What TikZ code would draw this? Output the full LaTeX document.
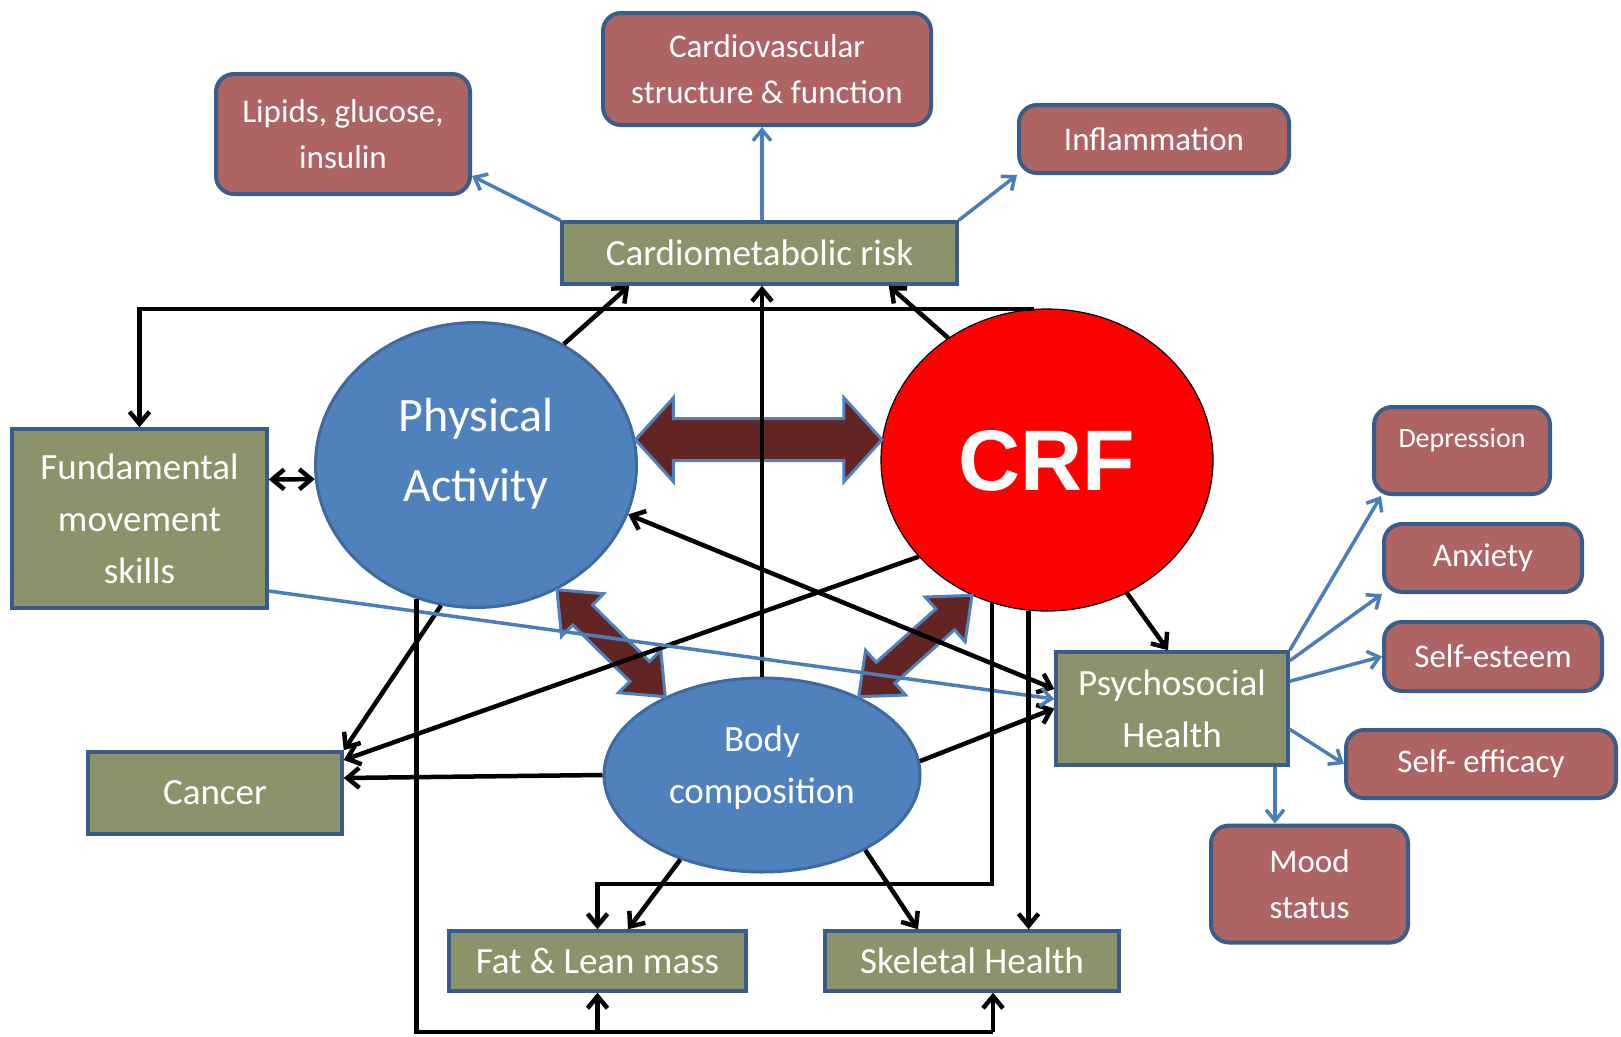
\documentclass[tikz,border=0pt]{standalone}
\usepackage{fontspec}
\setmainfont{Carlito}
\newfontfamily\crffont{Liberation Sans}
\usetikzlibrary{arrows.meta,calc,shapes.geometric}
\definecolor{bordblue}{HTML}{385D8A}
\definecolor{olivebox}{RGB}{138,147,106}
\definecolor{redbox}{RGB}{173,100,98}
\definecolor{ellblue}{HTML}{4F81BD}
\definecolor{ellborder}{HTML}{3E6A9E}
\definecolor{arrblue}{HTML}{4A7EBB}
\definecolor{darkarrow}{HTML}{632523}
\newcommand\bigdarrow[5]{%
  \coordinate (ta) at (#1);
  \coordinate (tb) at (#2);
  \coordinate (ha) at ($(ta)!#3!(tb)$);
  \coordinate (hb) at ($(tb)!#3!(ta)$);
  \draw[bigarr] (ta) -- ($(ha)!#5!90:(tb)$) -- ($(ha)!#4!90:(tb)$) -- ($(hb)!#4!-90:(ta)$) -- ($(hb)!#5!-90:(ta)$) -- (tb)
    -- ($(hb)!#5!90:(ta)$) -- ($(hb)!#4!90:(ta)$) -- ($(ha)!#4!-90:(tb)$) -- ($(ha)!#5!-90:(tb)$) -- cycle;
}
\begin{document}
\begin{tikzpicture}[x=1pt,y=-1pt,
  grn/.style={draw=bordblue, fill=olivebox, line width=3.5pt, text=white, align=center,
    font=\fontsize{37}{52}\selectfont, inner sep=0pt},
  redb/.style={draw=bordblue, fill=redbox, line width=4pt, rounded corners=18pt, text=white, align=center,
    font=\fontsize{33}{46}\selectfont, inner sep=0pt},
  ell/.style={ellipse, draw=ellborder, fill=ellblue, line width=3pt, inner sep=0pt},
  txtw/.style={text=white, align=center, inner sep=0pt},
  blk/.style={line width=4.5pt, black, -{Straight Barb[length=12pt,width=20pt]}},
  blkd/.style={line width=4.5pt, black, {Straight Barb[length=12pt,width=20pt]}-{Straight Barb[length=12pt,width=20pt]}},
  blkline/.style={line width=4.5pt, black},
  blu/.style={line width=3.5pt, arrblue, -{Straight Barb[length=11pt,width=18pt]}},
  bigarr/.style={draw=ellblue, fill=darkarrow, line width=3pt, line join=miter}]
\useasboundingbox[fill=white] (0,0) rectangle (1621,1036);

% boxes
\node[redb, minimum width=328pt, minimum height=112pt] (cv) at (767,69) {Cardiovascular\\structure \& function};
\node[redb, minimum width=254pt, minimum height=120pt] (lip) at (343,134) {Lipids, glucose,\\insulin};
\node[redb, minimum width=270pt, minimum height=68pt] (inf) at (1154,139) {Inflammation};
\node[grn, minimum width=395pt, minimum height=62pt] (cm) at (759.5,253) {Cardiometabolic risk};
\node[grn, minimum width=255pt, minimum height=179pt] (fms) at (139.5,518.5) {Fundamental\\movement\\skills};
\node[grn, minimum width=254pt, minimum height=82pt] (cancer) at (215,793) {Cancer};
\node[grn, minimum width=297pt, minimum height=60pt] (fat) at (597.5,961) {Fat \& Lean mass};
\node[grn, minimum width=294pt, minimum height=60pt] (skel) at (972,961) {Skeletal Health};
\node[grn, minimum width=232pt, minimum height=113pt] (psy) at (1172,708.5) {Psychosocial\\Health};
\node[redb, minimum width=176pt, minimum height=87pt] (dep) at (1462,450.5) {};
\node[txtw, font=\fontsize{28}{34}\selectfont] (deptext) at (1462,440) {Depression};
\node[redb, minimum width=198pt, minimum height=68pt] (anx) at (1483,558) {Anxiety};
\node[redb, minimum width=218pt, minimum height=69pt] (se) at (1493,656.5) {Self-esteem};
\node[redb, minimum width=270pt, minimum height=68pt] (sef) at (1481,764) {Self- efficacy};
\node[redb, minimum width=197pt, minimum height=117pt] (mood) at (1309.5,884) {Mood\\status};

% ellipses
\node[ell, minimum width=321pt, minimum height=285pt] (pa) at (476,465) {};
\node[txtw, font=\fontsize{48}{70}\selectfont] (patext) at (476,454) {Physical\\Activity};
\node[ell, minimum width=316pt, minimum height=194pt] (bc) at (762,775) {};
\node[txtw, font=\fontsize{37}{52}\selectfont] (bctext) at (762,768) {Body\\composition};
\node[ellipse, draw=black, fill=red, line width=1.2pt, inner sep=0pt, minimum width=332pt, minimum height=302pt] (crf) at (1047,460) {};
\node[txtw, font=\crffont\bfseries\fontsize{86}{90}\selectfont] (crftext) at (1047,461) {CRF};

% big two-way arrows
\bigdarrow{pa.9}{crf.173}{38pt}{21pt}{42pt}
\bigdarrow{pa.-57.6}{bc.141}{36pt}{14pt}{30pt}
\bigdarrow{crf.241.7}{bc.39}{36pt}{14pt}{30pt}

% blue connectors (top)
\draw[blu] (cm.north west) -- ([yshift=20pt]lip.south east);
\draw[blu] ([xshift=2.5pt]cm.north) -- ([xshift=2.5pt]cm.north |- cv.south);
\draw[blu] (cm.north east) -- (inf.south west);

% black connectors
\draw[blk] (crf.95) -- (crf.95 -| fms.north) -- (fms.north);
\draw[blk] (pa.54) -- ([xshift=69pt]cm.south west);
\draw[blk] (bc.north) -- (bc.north |- cm.south);
\draw[blk] (crf.129) -- ([xshift=-70pt]cm.south east);
\draw[blkd] ([yshift=39pt]fms.east) -- (pa.185);
\draw[blk] (bc.5) -- (psy.west);
\draw[blk] (crf.217) -- ([yshift=33pt]cancer.east);
\draw[blk] (pa.256) -- (cancer.north east);
\draw[blk] (bc.west) -- ([yshift=15pt]cancer.east);
\draw[blkd] (pa.-18) -- ([yshift=19.5pt]psy.west);
\draw[blu] ([yshift=-72.5pt]fms.east) -- ([yshift=9.5pt]psy.west);
\draw[blk] (crf.-59) -- ([xshift=-4pt]psy.north);
\coordinate (botL) at (416,1032);
\coordinate (botR) at (993,1032);
\draw[blkline] (pa.246) -- (pa.246 |- botL) -- (botR);
\draw[blk] (botR) -- (botR |- skel.south);
\draw[blk] (fat.south |- botL) -- (fat.south);
\coordinate (midR) at (993,884);
\draw[blk] (crf.249) -- (crf.249 |- midR) -- (fat.north |- midR) -- (fat.north);
\draw[blk] (crf.263) -- (crf.263 |- skel.north);
\draw[blk] (bc.226) -- ([xshift=30.5pt]fat.north);
\draw[blk] (bc.-36) -- ([xshift=-54pt]skel.north);

% blue connectors (right)
\draw[blu] (psy.north east) -- ([xshift=9pt]dep.south west);
\draw[blu] ([yshift=-10.5pt]psy.north east) -- (anx.south west);
\draw[blu] ([yshift=-31pt]psy.north east) -- (se.west);
\draw[blu] ([yshift=-79pt]psy.north east) -- (sef.west);
\draw[blu] ([xshift=103pt]psy.south) -- ([xshift=-34.5pt]mood.north);
\end{tikzpicture}
\end{document}
